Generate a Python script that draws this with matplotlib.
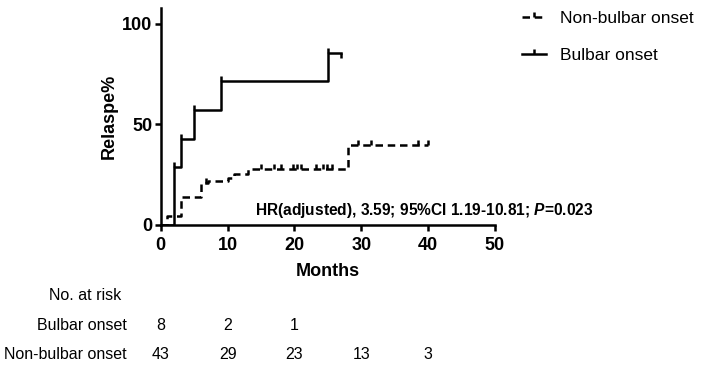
import matplotlib
matplotlib.use("Agg")
import matplotlib.pyplot as plt
import matplotlib.transforms as mtransforms
from matplotlib.lines import Line2D
from matplotlib.path import Path

# ---------------------------------------------------------------------------
# Data
# ---------------------------------------------------------------------------

bulbar_t = [0, 2, 3, 5, 9, 25, 27]
bulbar_y = [0, 28.6, 42.9, 57.1, 71.4, 85.7, 85.7]
bulbar_cens_t = [2, 3, 5, 9, 25]
bulbar_cens_y = [28.6, 42.9, 57.1, 71.4, 85.7]
bulbar_end_t = [27]
bulbar_end_y = [85.7]

nonbulbar_t = [0, 1, 3, 6, 7, 10, 11, 13, 28, 40]
nonbulbar_y = [0, 4.7, 14.0, 20.9, 22.1, 23.3, 25.6, 27.9, 39.9, 39.9]
nonbulbar_cens_t = [6.8, 15, 17, 18, 19.8, 20.4, 21, 23.3, 24.3, 24.9, 25.6,
                    29.5, 31.5, 38.5, 40]
nonbulbar_cens_y = [20.9] + [27.9] * 10 + [39.9] * 4

risk_times = [0, 10, 20, 30, 40]
risk_bulbar = ["8", "2", "1", "", ""]
risk_nonbulbar = ["43", "29", "23", "13", "3"]

hr_text = r"HR(adjusted), 3.59; 95%CI 1.19-10.81; $\mathit{P}$=0.023"

# ---------------------------------------------------------------------------
# Style
# ---------------------------------------------------------------------------

plt.rcParams.update({
    "font.family": "Liberation Sans",
    "mathtext.fontset": "custom",
    "mathtext.it": "Liberation Sans:italic:bold",
    "mathtext.rm": "Liberation Sans:bold",
    "mathtext.bf": "Liberation Sans:bold",
    "axes.spines.top": False,
    "axes.spines.right": False,
})

LW = 1.8
DASH = (0, (3.0, 1.9))
TICK_UP = Path([(0, 0), (0, 1)])
TICK_DOWN = Path([(0, 0), (0, -1)])

fig = plt.figure(figsize=(7.02, 3.67), dpi=100)
ax = fig.add_axes([0.229, 0.387, 0.476, 0.5915])

# curves
ax.step(bulbar_t, bulbar_y, where="post", color="black", lw=LW)
ax.step(nonbulbar_t, nonbulbar_y, where="post", color="black", lw=LW,
        linestyle=DASH)

# censor ticks
ax.plot(bulbar_cens_t, bulbar_cens_y, ls="none", marker=TICK_UP, ms=7,
        mec="black", mew=LW)
ax.plot(bulbar_end_t, bulbar_end_y, ls="none", marker=TICK_DOWN, ms=7,
        mec="black", mew=LW)
ax.plot(nonbulbar_cens_t, nonbulbar_cens_y, ls="none", marker=TICK_UP, ms=7,
        mec="black", mew=LW)

ax.set_xlim(0, 50)
ax.set_ylim(0, 108)
ax.set_xticks([0, 10, 20, 30, 40, 50])
ax.set_yticks([0, 50, 100])
for s in ("left", "bottom"):
    ax.spines[s].set_linewidth(LW)
ax.tick_params(direction="out", length=4.5, width=LW, labelsize=13)
ax.tick_params(axis="x", pad=4.5)
ax.tick_params(axis="y", pad=1.5)
for lab in ax.get_xticklabels() + ax.get_yticklabels():
    lab.set_fontweight("bold")

ax.set_xlabel("Months", fontsize=13, fontweight="bold", labelpad=6)
ax.set_ylabel("Relaspe%", fontsize=13, fontweight="bold", labelpad=3)

ax.text(14.1, 7, hr_text, fontsize=11.2, fontweight="bold", va="center", ha="left")

# legend
handles = [
    Line2D([], [], color="black", lw=LW, linestyle=DASH,
           marker=TICK_UP, ms=7, mew=LW),
    Line2D([], [], color="black", lw=LW, marker=TICK_UP, ms=7, mew=LW),
]
fig.legend(handles, ["Non-bulbar onset", "Bulbar onset"],
           loc="upper left", bbox_to_anchor=(0.743, 0.97), frameon=False,
           fontsize=12.5, handlelength=1.4, handletextpad=0.8,
           labelspacing=1.25, borderpad=0, borderaxespad=0)

# number at risk table
trans = mtransforms.blended_transform_factory(ax.transData, fig.transFigure)
fig.text(0.07, 0.196, "No. at risk", fontsize=11.5, ha="left", va="center")
fig.text(0.181, 0.114, "Bulbar onset", fontsize=11.5, ha="right", va="center")
fig.text(0.181, 0.035, "Non-bulbar onset", fontsize=11.5, ha="right", va="center")
for t, b, n in zip(risk_times, risk_bulbar, risk_nonbulbar):
    ax.text(t, 0.114, b, transform=trans, fontsize=11.5, ha="center",
            va="center", clip_on=False)
    ax.text(t, 0.035, n, transform=trans, fontsize=11.5, ha="center",
            va="center", clip_on=False)

fig.savefig("out.png", dpi=100)
